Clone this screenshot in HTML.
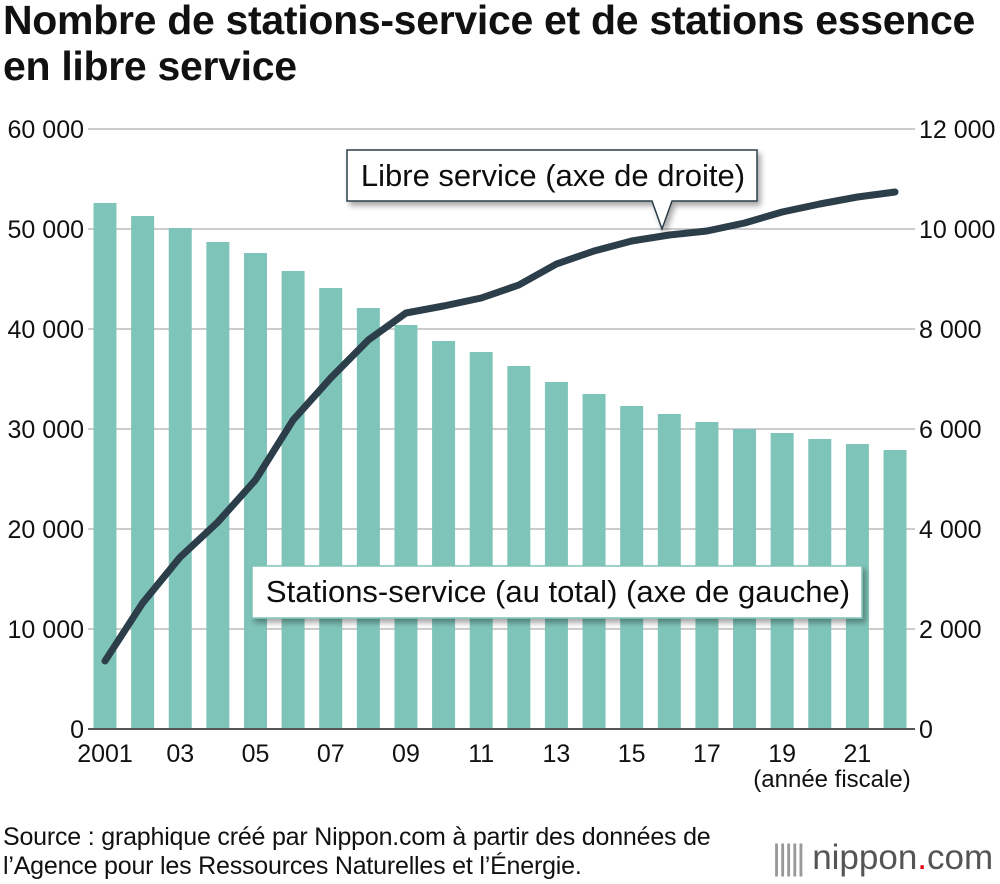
<!DOCTYPE html>
<html><head><meta charset="utf-8"><style>
body{margin:0;width:1000px;height:884px;background:#fff;font-family:"Liberation Sans",Arial,sans-serif;overflow:hidden}
.t{position:absolute;left:3px;top:-3px;font-size:41px;font-weight:bold;line-height:46px;color:#111;letter-spacing:-0.3px;white-space:nowrap}
.src{position:absolute;left:3px;top:823px;font-size:25px;line-height:29px;color:#111;letter-spacing:-0.2px;white-space:nowrap}
.logo{position:absolute;left:772px;top:838px;font-size:35px;color:#555;white-space:nowrap}
</style></head><body>
<div class="t">Nombre de stations-service et de stations essence<br>en libre service</div>
<svg id="c" width="1000" height="884" style="position:absolute;left:0;top:0">
<defs><filter id="sh" x="-10%" y="-20%" width="130%" height="160%"><feDropShadow dx="3" dy="4" stdDeviation="3" flood-opacity="0.35"/></filter></defs>
<g id="grid"></g><g id="bars"></g><g id="line"></g><g id="ann"></g><g id="ticks"></g>
</svg>
<div class="src">Source : graphique créé par Nippon.com à partir des données de<br>l’Agence pour les Ressources Naturelles et l’Énergie.</div>
<div class="logo"><span style="letter-spacing:-3px;color:#999">|||||</span> nippon<span style="color:#e60012">.</span>com</div>
<script>
const years=[2001,2002,2003,2004,2005,2006,2007,2008,2009,2010,2011,2012,2013,2014,2015,2016,2017,2018,2019,2020,2021,2022];
const totalStations=[52600,51300,50100,48700,47600,45800,44100,42100,40400,38800,37700,36300,34700,33500,32300,31500,30700,30000,29600,29000,28500,27900];
const selfService=[1360,2520,3440,4140,4980,6180,7020,7780,8320,8460,8620,8880,9300,9560,9760,9880,9960,10120,10340,10500,10640,10740];
const leftTicks=[0,10000,20000,30000,40000,50000,60000];
const rightTicks=[0,2000,4000,6000,8000,10000,12000];
const xLabels=["2001","03","05","07","09","11","13","15","17","19","21"];
const NS="http://www.w3.org/2000/svg";
const yL=v=>729-v/60000*600, yR=v=>729-v/12000*600;
const xI=i=>105+i*37.62;
function mk(t,a,p){const e=document.createElementNS(NS,t);for(const k in a)e.setAttribute(k,a[k]);p.appendChild(e);return e;}
const G=document.getElementById('grid'),B=document.getElementById('bars'),L=document.getElementById('line'),A=document.getElementById('ann'),T=document.getElementById('ticks');
leftTicks.forEach((v,i)=>{
 const l=mk('line',{x1:88,x2:915,y1:yL(v),y2:yL(v),stroke:v===0?'#555':'#bbb','stroke-width':v===0?2:1.5},G);
 
 
 const t=mk('text',{x:84,y:yL(v)+9,'text-anchor':'end','font-size':25,fill:'#111'},T);t.textContent=v===0?'0':(v/1000)+' 000';
 
 
 const r=rightTicks[i];
 const t2=mk('text',{x:919,y:yR(r)+9,'font-size':25,fill:'#111'},T);t2.textContent=r===0?'0':(r/1000)+' 000';
 
 
});
totalStations.forEach((v,i)=>{
 const r=mk('rect',{x:xI(i)-11.5,y:yL(v),width:23,height:729-yL(v),fill:'#7fc4b9'},B);
 
 
});
mk('line',{x1:88,x2:915,y1:729,y2:729,stroke:'#555','stroke-width':2},B);
xLabels.forEach((s,k)=>{const t=mk('text',{x:xI(k*2),y:762,'text-anchor':'middle','font-size':25,fill:'#111'},T);t.textContent=s;
 
 });
const fy=mk('text',{x:832,y:787,'text-anchor':'middle','font-size':24,fill:'#111'},T);fy.textContent='(année fiscale)';


const pl=mk('polyline',{points:selfService.map((v,i)=>xI(i)+','+yR(v)).join(' '),fill:'none',stroke:'#2c3e4a','stroke-width':7,'stroke-linejoin':'round','stroke-linecap':'round'},L);


const g1=mk('g',{filter:'url(#sh)'},A);


mk('path',{d:'M347,150 H757 V201 H672 L662,229 L652,201 H347 Z',fill:'#fff',stroke:'#2c3e4a','stroke-width':1.5},g1);
const t1=mk('text',{x:553,y:186,'text-anchor':'middle','font-size':31,fill:'#111'},g1);t1.textContent='Libre service (axe de droite)';
const g2=mk('g',{filter:'url(#sh)'},A);


mk('rect',{x:252,y:566,width:610,height:52,fill:'#fff',stroke:'#7fc4b9','stroke-width':1.5},g2);
const t3=mk('text',{x:558,y:602,'text-anchor':'middle','font-size':31,fill:'#111'},g2);t3.textContent='Stations-service (au total) (axe de gauche)';
</script>
</body></html>
